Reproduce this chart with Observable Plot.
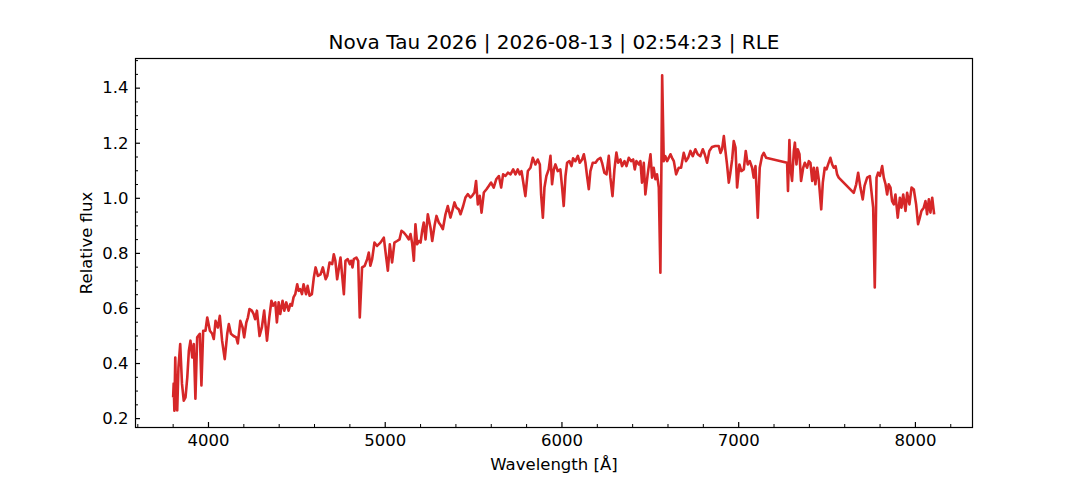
<!DOCTYPE html>
<html>
<head>
<meta charset="utf-8">
<script src="https://cdn.jsdelivr.net/npm/d3@7"></script>
<script src="https://cdn.jsdelivr.net/npm/@observablehq/plot@0.6"></script>
<style>
  html, body { margin: 0; padding: 0; background: white; }
  #chart { width: 1080px; height: 480px; }
</style>
</head>
<body>
<div id="chart"></div>
<script>
const title = "Nova Tau 2026 | 2026-08-13 | 02:54:23 | RLE";
const xLabel = "Wavelength [Å]";
const yLabel = "Relative flux";

const wavelength = [
  3800,3803,3807,3812,3818,3823,3830,3840,3850,3860,3870,3880,3889,3898,3908,3917,3926,3936,3951,3960,
  3970,3983,3993,4008,4021,4030,4040,4053,4064,4077,4092,4106,4115,4127,4142,4157,4166,4180,4193,4202,
  4214,4223,4232,4245,4255,4264,4274,4289,4302,4315,4331,4344,4356,4365,4378,4387,4397,4406,4419,4429,
  4440,4453,4463,4472,4481,4491,4502,4510,4519,4529,4538,4552,4561,4572,4585,4596,4606,4619,4634,4647,
  4663,4672,4685,4700,4709,4718,4728,4747,4766,4775,4788,4800,4807,4815,4822,4837,4847,4856,4869,4884,
  4898,4907,4916,4926,4939,4954,4973,4992,5001,5015,5026,5039,5052,5067,5081,5092,5105,5120,5133,5143,
  5152,5162,5171,5181,5190,5200,5209,5218,5228,5241,5256,5266,5279,5290,5303,5316,5326,5341,5354,5369,
  5382,5392,5403,5416,5426,5441,5454,5467,5482,5492,5505,5514,5524,5535,5545,5558,5573,5586,5599,5614,
  5628,5643,5656,5667,5680,5694,5709,5724,5737,5750,5761,5771,5780,5793,5807,5822,5835,5850,5863,5875,
  5882,5892,5901,5912,5925,5935,5944,5954,5963,5976,5991,6001,6010,6020,6029,6042,6054,6063,6076,6090,
  6101,6114,6124,6133,6142,6152,6161,6174,6190,6203,6218,6227,6240,6252,6265,6274,6286,6297,6308,6318,
  6331,6340,6354,6365,6378,6391,6403,6412,6421,6435,6444,6453,6463,6472,6485,6501,6510,6519,6529,6538,
  6548,6557,6563,6567,6576,6585,6595,6604,6614,6623,6633,6646,6661,6674,6689,6702,6714,6727,6740,6755,
  6768,6783,6797,6808,6821,6834,6849,6868,6887,6897,6906,6916,6925,6934,6944,6953,6963,6972,6982,6991,
  7004,7015,7029,7040,7051,7063,7076,7085,7095,7108,7119,7132,7142,7155,7274,7279,7287,7293,7302,7312,
  7318,7327,7334,7344,7353,7365,7374,7387,7397,7406,7416,7425,7434,7444,7453,7467,7476,7487,7497,7506,
  7519,7529,7538,7548,7557,7566,7651,7665,7676,7689,7702,7712,7727,7742,7751,7761,7770,7780,7789,7799,
  7812,7821,7831,7840,7849,7859,7868,7878,7887,7900,7912,7921,7931,7944,7953,7966,7978,7991,8004,8015,
  8025,8034,8047,8057,8066,8076,8085,8095,8106
];
const flux = [
  0.277,0.327,0.229,0.422,0.240,0.230,0.386,0.471,0.327,0.265,0.277,0.350,0.447,0.483,0.422,0.471,0.272,0.495,0.508,0.320,
  0.519,0.519,0.567,0.519,0.508,0.489,0.555,0.531,0.573,0.483,0.416,0.508,0.543,0.508,0.500,0.495,0.473,0.555,0.531,0.495,
  0.549,0.567,0.598,0.592,0.580,0.561,0.592,0.500,0.531,0.592,0.483,0.567,0.628,0.610,0.622,0.549,0.622,0.580,0.628,0.592,
  0.622,0.592,0.616,0.610,0.640,0.652,0.688,0.664,0.670,0.652,0.688,0.652,0.682,0.646,0.652,0.712,0.749,0.718,0.724,0.749,
  0.706,0.718,0.767,0.761,0.797,0.773,0.706,0.785,0.652,0.773,0.779,0.761,0.773,0.749,0.779,0.785,0.773,0.567,0.749,0.755,
  0.779,0.803,0.755,0.779,0.839,0.827,0.839,0.857,0.809,0.737,0.833,0.767,0.839,0.845,0.851,0.882,0.876,0.864,0.851,0.870,
  0.839,0.773,0.906,0.833,0.845,0.839,0.882,0.912,0.851,0.942,0.894,0.845,0.900,0.936,0.912,0.900,0.888,0.942,0.972,0.930,
  0.960,0.985,0.966,0.960,0.942,0.972,1.003,1.015,1.003,1.009,1.021,1.063,0.978,1.009,0.948,1.021,1.033,1.045,1.057,1.039,
  1.069,1.081,1.039,1.087,1.081,1.093,1.087,1.105,1.087,1.105,1.087,1.099,1.063,1.008,1.099,1.111,1.147,1.123,1.141,1.123,
  1.014,0.930,1.039,1.081,1.105,1.154,1.051,1.105,1.123,1.099,1.105,1.039,0.972,1.081,1.129,1.135,1.117,1.145,1.135,1.154,
  1.129,1.141,1.160,1.129,1.081,1.033,1.099,1.129,1.129,1.141,1.147,1.129,1.093,1.087,1.154,1.075,1.008,1.105,1.166,1.129,
  1.141,1.117,1.135,1.117,1.147,1.135,1.141,1.105,1.135,1.123,1.135,1.057,1.129,1.014,1.087,1.160,1.075,1.111,1.069,1.087,
  1.039,0.730,1.135,1.447,1.135,1.153,1.135,1.147,1.160,1.147,1.135,1.087,1.111,1.111,1.165,1.135,1.147,1.172,1.153,1.178,
  1.160,1.153,1.178,1.160,1.129,1.172,1.186,1.190,1.190,1.165,1.178,1.226,1.172,1.123,1.057,1.093,1.141,1.208,1.184,1.039,
  1.123,1.099,1.105,1.172,1.123,1.135,1.111,1.075,1.117,0.930,1.111,1.153,1.165,1.147,1.129,1.027,1.212,1.111,1.063,1.172,
  1.202,1.123,1.178,1.160,1.063,1.111,1.129,1.111,1.135,1.129,1.063,1.111,1.051,1.111,1.069,0.960,1.057,1.111,1.105,1.123,
  1.147,1.123,1.111,1.117,1.087,1.075,1.020,1.051,1.093,1.038,0.996,1.045,1.075,1.081,1.026,0.966,0.676,1.075,1.093,1.081,
  1.117,1.075,1.051,1.014,1.051,1.039,0.990,0.978,1.014,0.930,1.002,0.966,1.014,0.954,1.020,0.978,1.039,1.032,0.978,0.906,
  0.930,0.954,0.966,0.990,0.942,0.996,0.948,1.002,0.942
];

const xMajor = [4000, 5000, 6000, 7000, 8000];
const xMinor = [3600, 3800, 4200, 4400, 4600, 4800, 5200, 5400, 5600, 5800, 6200, 6400, 6600, 6800, 7200, 7400, 7600, 7800, 8200];
const yMajor = [0.2, 0.4, 0.6, 0.8, 1.0, 1.2, 1.4];
const yMinor = [0.25, 0.3, 0.35, 0.45, 0.5, 0.55, 0.65, 0.7, 0.75, 0.85, 0.9, 0.95, 1.05, 1.1, 1.15, 1.25, 1.3, 1.35, 1.45, 1.5];

const spectrum = wavelength.map((w, i) => ({w, f: flux[i]}));

const chart = Plot.plot({
  width: 1080,
  height: 480,
  marginLeft: 135,
  marginRight: 108,
  marginTop: 58,
  marginBottom: 53,
  style: {fontFamily: "DejaVu Sans", fontSize: "16.5px", background: "white", color: "black", overflow: "visible"},
  x: {domain: [3587, 8323]},
  y: {domain: [0.1677, 1.5077]},
  marks: [
    Plot.line(spectrum, {x: "w", y: "f", stroke: "#d62728", strokeWidth: 2.6, strokeLinejoin: "round", strokeLinecap: "butt"}),
    Plot.frame({stroke: "black", strokeWidth: 1.2}),
    Plot.axisX(xMajor, {tickSize: -5, fill: "none", label: null, strokeWidth: 1.2}),
    Plot.axisX(xMinor, {tickSize: -3, fill: "none", label: null, strokeWidth: 1}),
    Plot.axisX(xMajor, {tickSize: 0, tickPadding: 7, label: null, fontSize: 16.5, tickFormat: d => String(d)}),
    Plot.axisY(yMajor, {tickSize: -5, fill: "none", label: null, strokeWidth: 1.2}),
    Plot.axisY(yMinor, {tickSize: -3, fill: "none", label: null, strokeWidth: 1}),
    Plot.axisY(yMajor, {tickSize: 0, tickPadding: 7, label: null, fontSize: 16.5, tickFormat: d => d.toFixed(1)}),
    Plot.text([xLabel], {frameAnchor: "bottom", dy: 37.3, lineAnchor: "middle", fontSize: 16.5, fill: "black"}),
    Plot.text([yLabel], {frameAnchor: "left", dx: -48.5, rotate: -90, lineAnchor: "middle", textAnchor: "middle", fontSize: 16.5, fill: "black"}),
    Plot.text([title], {frameAnchor: "top", dy: -15.5, lineAnchor: "middle", fontSize: 20, fill: "black"})
  ]
});
document.getElementById("chart").appendChild(chart);
</script>
</body>
</html>
